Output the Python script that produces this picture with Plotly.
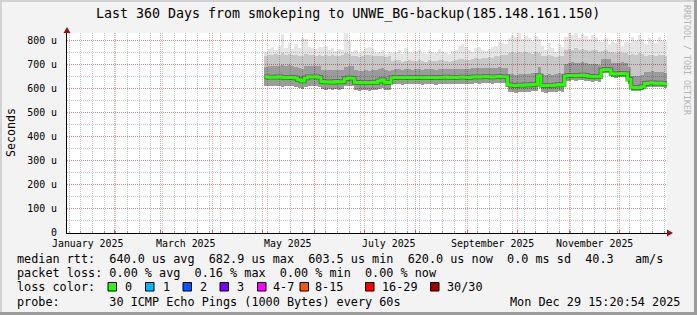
import numpy as np
import pandas as pd
import plotly.graph_objects as go

# ---------------- data (values in microseconds) ----------------
bin_start = pd.date_range("2025-05-02", periods=121, freq="2D")  # 2-day buckets

median = [650, 648, 649, 648, 650, 648, 646, 648, 647, 645,
          638, 632,
          645, 650, 649, 650, 648,
          630, 628, 629, 627, 630, 628, 629,
          642, 645, 644,
          627, 626, 625, 626, 625, 627, 626, 632, 638, 627, 626,
          646, 648, 647, 646, 648, 647, 646, 647, 648, 646, 647, 648, 647, 646, 647,
          648, 649, 647, 648, 647, 648, 649, 648, 647, 649, 650, 649, 650, 651, 650,
          649, 650, 651, 650, 650,
          617, 615, 614, 616, 615, 617, 616, 618, 619,
          654,
          614, 613, 615, 614, 616, 618, 616,
          653, 655, 656, 654, 655, 657, 655, 652, 650, 651, 650,
          678, 680, 679,
          662, 661, 663, 664, 663,
          640,
          606, 604, 605, 608,
          622, 624, 625, 623, 624, 623, 620]

smoke_lo = [612, 610, 611, 612, 610, 609, 611, 612, 610, 608, 605, 598, 606, 612, 611, 610, 609,
            598, 596, 597, 595, 598, 596, 597,
            610, 612, 611,
            594, 592, 593, 594, 592, 593, 594, 598, 602, 594, 593,
            618, 620, 619, 617, 620, 619, 618, 619, 620, 617, 618, 620, 619, 617, 618,
            620, 621, 618, 620, 619, 620, 621, 620, 618, 621, 622, 621, 622, 623, 622,
            621, 622, 623, 622, 622,
            588, 585, 584, 586, 585, 588, 586, 589, 590, 620, 586, 584, 586, 585, 588, 590, 588,
            632, 634, 636, 633, 635, 637, 634, 632, 630, 631, 630,
            664, 666, 665, 648, 646, 648, 649, 648,
            618,
            592, 590, 591, 594,
            606, 608, 609, 607, 608, 607, 604]

smoke_dark = [692, 695, 694, 696, 693, 698, 695, 697, 694, 692, 688, 684, 694, 696, 695, 694, 696,
              680, 678, 680, 678, 680, 679, 680, 692, 695, 694, 678, 676, 675, 677, 676, 678,
              677, 682, 688, 678, 676,
              680, 682, 681, 680, 683, 682, 680, 681, 683, 680, 681, 682, 681, 680, 682,
              683, 684, 682, 683, 681, 683, 684, 683, 682, 685, 686, 685, 687, 688, 687,
              686, 688, 690, 688, 688,
              662, 660, 658, 661, 660, 662, 661, 664, 666, 690, 660, 658, 661, 659, 662, 664, 662,
              705, 708, 710, 706, 708, 710, 707, 704, 702, 703, 700,
              722, 725, 722, 708, 706, 708, 710, 708,
              690, 655, 652, 654, 658, 668, 670, 672, 670, 671, 670, 666]

smoke_mid = [738, 742, 740, 745, 740, 748, 742, 745, 740, 742, 735, 738, 745, 742, 740, 738, 742,
             735, 740, 738, 742, 736, 738, 740, 750, 745, 738, 735, 732, 738, 740, 742, 738,
             735, 736, 738, 732, 735,
             715, 718, 720, 712, 716, 718, 714, 716, 720, 715, 712, 718, 716, 714, 718,
             720, 716, 712, 715, 718, 722, 725, 720, 718, 722, 728, 724, 726, 730, 732,
             728, 735, 738, 740, 742,
             748, 752, 750, 755, 748, 752, 750, 745, 752, 748, 738, 735, 740, 736, 732, 738, 735,
             760, 765, 762, 768, 760, 765, 762, 758, 762, 760, 755,
             758, 762, 755, 752, 750, 755, 748, 750,
             740, 745, 742, 748, 745, 738, 742, 740, 738, 742, 740, 736]

smoke_max = [752, 765, 772, 760, 778, 828, 770, 790, 765, 785,
             770, 810, 805, 775, 768, 765, 775, 772, 780, 762,
             770, 758, 765, 760, 830, 800, 755, 762, 750, 758,
             770, 775, 768, 748, 755, 760, 745, 752,
             748, 755, 760, 745, 770, 752, 748, 758, 762, 750,
             745, 760, 752, 748, 765, 755, 750, 745, 758, 762,
             778, 785, 775, 760, 752, 768, 775, 760, 758, 765,
             772, 780, 795, 790, 788,
             810, 825, 815, 830, 805, 820, 812, 800, 818, 808,
             780, 760, 790, 770, 755, 785, 775,
             815, 830, 825, 832, 810, 828, 820, 805, 825, 815, 800,
             795, 810, 785, 800, 790, 805, 780, 795,
             790, 815, 800, 825, 805, 785, 810, 800, 790, 815, 800, 795]

for arr in (median, smoke_lo, smoke_dark, smoke_mid, smoke_max):
    assert len(arr) == len(bin_start), len(arr)

x_start = "2025-01-03 15:20:54"
x_end = "2025-12-29 15:20:54"
month_starts = pd.date_range("2025-01-01", "2025-12-01", freq="MS")
label_dates = ["2025-01-16", "2025-03-16", "2025-05-16", "2025-07-16", "2025-09-16", "2025-11-16"]
label_text = ["January 2025", "March 2025", "May 2025", "July 2025", "September 2025", "November 2025"]
y_ticks = [0, 100, 200, 300, 400, 500, 600, 700, 800]
y_text = ["0", "100 u", "200 u", "300 u", "400 u", "500 u", "600 u", "700 u", "800 u"]

title = "Last 360 Days from smokeping to UNWE_BG-backup(185.148.161.150)"
legend_lines = [
    "median rtt:  640.0 us avg  682.9 us max  603.5 us min  620.0 us now  0.0 ms sd  40.3   am/s",
    "packet loss: 0.00 % avg  0.16 % max  0.00 % min  0.00 % now",
    "loss color:",
    "probe:       30 ICMP Echo Pings (1000 Bytes) every 60s",
]
timestamp = "Mon Dec 29 15:20:54 2025"
loss_labels = ["0", "1", "2", "3", "4-7", "8-15", "16-29", "30/30"]
loss_colors = ["#26ff00", "#00b8ff", "#0059ff", "#7e00ff", "#ff00ff", "#ff5500", "#ff0000", "#a10000"]

# ---------------- geometry (pixels) ----------------
W, H = 697, 315
L, R, T, B = 67, 667, 33, 233
MONO = "DejaVu Sans Mono"


def px(xp):
    return (xp - L) / (R - L)


def py(yp):
    return (B - yp) / (B - T)


lo = np.array(smoke_lo, dtype=float)
centers = bin_start + pd.Timedelta(hours=24)
bw = 2 * 86400000

fig = go.Figure()
for top, col in ((smoke_max, "rgba(0,0,0,0.10)"),
                 (smoke_mid, "rgba(0,0,0,0.13)"),
                 (smoke_dark, "rgba(0,0,0,0.22)")):
    fig.add_trace(go.Bar(x=centers, y=np.array(top, dtype=float) - lo, base=lo, width=bw,
                         marker=dict(color=col, line=dict(width=0)),
                         hoverinfo="skip", showlegend=False))

step_x = list(bin_start) + [bin_start[-1] + pd.Timedelta(days=2)]
step_y = list(median) + [median[-1]]
fig.add_trace(go.Scatter(x=step_x, y=step_y, mode="lines", line=dict(color="rgba(40,40,40,0.55)", width=4.5, shape="hv"),
                         hoverinfo="skip", showlegend=False))
fig.add_trace(go.Scatter(x=step_x, y=step_y, mode="lines", line=dict(color="#26ff00", width=3, shape="hv"),
                         hoverinfo="skip", showlegend=False))

MGRID = "rgba(225,60,60,0.45)"
GRID = "rgba(130,130,130,0.45)"

fig.update_layout(
    width=W, height=H,
    margin=dict(l=L, r=W - R, t=T, b=H - B, pad=0),
    paper_bgcolor="#f3f3f3", plot_bgcolor="white",
    barmode="overlay", bargap=0,
    showlegend=False,
    xaxis=dict(type="date", range=[x_start, x_end], tickmode="array", tickvals=month_starts,
               showticklabels=False, showgrid=True, gridcolor=MGRID, griddash="1px,1px", gridwidth=1,
               ticks="inside", ticklen=3, tickcolor="rgba(225,60,60,0.8)",
               minor=dict(tickmode="linear", tick0="2025-01-05", dtick=7 * 86400000, showgrid=True,
                          gridcolor=GRID, griddash="1px,1px", ticks="inside", ticklen=2,
                          tickcolor="rgba(130,130,130,0.8)"),
               showline=True, linecolor="black", linewidth=1, zeroline=False, fixedrange=True),
    yaxis=dict(range=[0, 832], tickmode="array", tickvals=y_ticks, ticktext=y_text,
               tickfont=dict(family=MONO, size=9.9, color="black"),
               showgrid=True, gridcolor=MGRID, griddash="1px,1px", gridwidth=1,
               minor=dict(tickmode="linear", tick0=0, dtick=50, showgrid=True, gridcolor=GRID,
                          griddash="1px,1px"),
               ticks="", ticklabelstandoff=7,
               showline=True, linecolor="black", linewidth=1, zeroline=False, fixedrange=True),
)

ann = []
ann.append(dict(text=title, x=px(348), y=py(14), xref="paper", yref="paper", xanchor="center", yanchor="middle",
                showarrow=False, font=dict(family=MONO, size=13.3, color="black")))
for d, t in zip(label_dates, label_text):
    ann.append(dict(text=t, x=d, y=py(243), xref="x", yref="paper", xanchor="center", yanchor="middle",
                    showarrow=False, font=dict(family=MONO, size=9.9, color="black")))
ann.append(dict(text="Seconds", x=px(11), y=py(133), xref="paper", yref="paper", xanchor="center",
                yanchor="middle", textangle=-90, showarrow=False, font=dict(family=MONO, size=11.6, color="black")))
ann.append(dict(text="RRDTOOL / TOBI OETIKER", x=px(687), y=py(60), xref="paper", yref="paper", xanchor="center",
                yanchor="middle", textangle=90, showarrow=False, font=dict(family=MONO, size=8.3, color="#b4b4b4")))
line_y = [259, 273.2, 287.2, 301.5]
for txt, yy in zip(legend_lines, line_y):
    ann.append(dict(text=txt.replace(" ", "&nbsp;"), x=px(15.3), y=py(yy), xref="paper", yref="paper",
                    xanchor="left", yanchor="middle", showarrow=False,
                    font=dict(family=MONO, size=11.8, color="black")))
ann.append(dict(text=timestamp, x=px(682), y=py(301.5), xref="paper", yref="paper", xanchor="right",
                yanchor="middle", showarrow=False, font=dict(family=MONO, size=11.8, color="black")))

box_x = [108, 145.5, 183, 220, 257.5, 300, 365.5, 430.5]
lab_x = [122.5, 160.5, 197.5, 234.5, 270.5, 312.5, 379.5, 444.5]
shapes = []
for bx, lx, lab, col in zip(box_x, lab_x, loss_labels, loss_colors):
    shapes.append(dict(type="rect", xref="paper", yref="paper", x0=px(bx), x1=px(bx + 8.5),
                       y0=py(291), y1=py(282.5), fillcolor=col, line=dict(color="black", width=1)))
    ann.append(dict(text=lab, x=px(lx), y=py(287.2), xref="paper", yref="paper", xanchor="left",
                    yanchor="middle", showarrow=False, font=dict(family=MONO, size=11.8, color="black")))

# frame
shapes += [
    dict(type="rect", xref="paper", yref="paper", x0=px(0), x1=px(W), y0=py(0), y1=py(2),
         fillcolor="#d2d2d2", line=dict(width=0), layer="below"),
    dict(type="rect", xref="paper", yref="paper", x0=px(0), x1=px(2), y0=py(0), y1=py(H),
         fillcolor="#d2d2d2", line=dict(width=0), layer="below"),
    dict(type="rect", xref="paper", yref="paper", x0=px(W - 3), x1=px(W), y0=py(0), y1=py(H),
         fillcolor="#9c9c9c", line=dict(width=0), layer="below"),
    dict(type="rect", xref="paper", yref="paper", x0=px(0), x1=px(W), y0=py(H - 3), y1=py(H),
         fillcolor="#9c9c9c", line=dict(width=0), layer="below"),
]
# axis arrows
shapes.append(dict(type="path", xref="paper", yref="paper", xsizemode="pixel", ysizemode="pixel",
                   xanchor=px(667), yanchor=py(233), path="M 0,-3.5 L 6,0 L 0,3.5 Z",
                   fillcolor="#9a1010", line=dict(width=0)))
shapes.append(dict(type="path", xref="paper", yref="paper", xsizemode="pixel", ysizemode="pixel",
                   xanchor=px(67), yanchor=py(33), path="M -3.5,0 L 3.5,0 L 0,6 Z",
                   fillcolor="#9a1010", line=dict(width=0)))

fig.update_layout(annotations=ann, shapes=shapes)
fig.write_html("out.html", config={"displayModeBar": False})
